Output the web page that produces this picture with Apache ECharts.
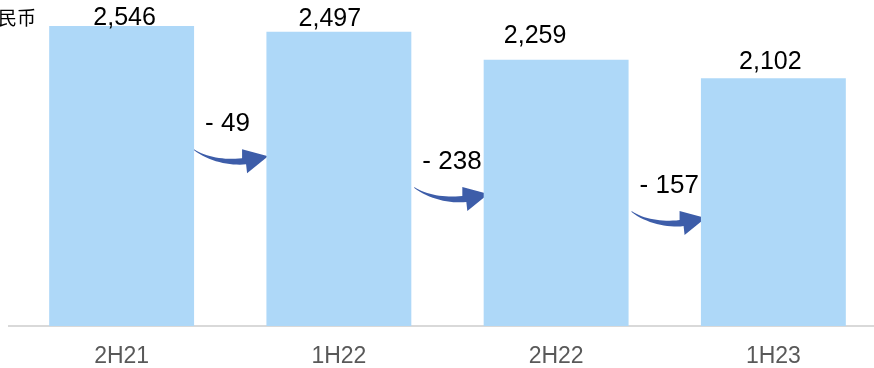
<!DOCTYPE html>
<html>
<head>
<meta charset="utf-8">
<script src="https://cdn.jsdelivr.net/npm/echarts@6/dist/echarts.min.js"></script>
<style>
  html, body { margin: 0; padding: 0; background: #ffffff; overflow: hidden; }
  #chart { width: 890px; height: 368px; }
</style>
</head>
<body>
<div id="chart"></div>
<script>
// Half-year totals
const periods = ['2H21', '1H22', '2H22', '1H23'];
const amounts = [2546, 2497, 2259, 2102];
const unitLabel = '人民币';

// Value level on the y axis where each change arrow begins
const arrowLevels = [1500, 1180, 975];
// Nudges for the value labels [dx, dy]
const labelShift = [[3, 5], [-9, 0], [-21, -11], [-3, -4]];

const BAR_COLOR = '#aed8f8';
const ARROW_COLOR = '#3d5da9';
const FONT = '"Liberation Sans", Arial, sans-serif';

const chart = echarts.init(document.getElementById('chart'), null, { renderer: 'canvas' });

chart.setOption({
  animation: false,
  backgroundColor: '#ffffff',
  grid: { left: 13, right: 8, top: 19.6, bottom: 41, containLabel: false },
  xAxis: {
    type: 'category',
    data: periods,
    axisTick: { show: false },
    axisLine: { show: true, lineStyle: { color: '#d9d9d9', width: 2 } },
    axisLabel: { color: '#595959', fontSize: 23, fontFamily: FONT, margin: 19 }
  },
  yAxis: {
    type: 'value',
    min: 0,
    max: 2600,
    show: false,
    splitLine: { show: false }
  },
  series: [{
    type: 'bar',
    barWidth: '66.7%',
    itemStyle: { color: BAR_COLOR },
    data: amounts.map((v, i) => ({
      value: v,
      label: {
        show: true,
        position: 'top',
        distance: 0,
        offset: labelShift[i],
        color: '#000000',
        fontSize: 25,
        fontFamily: FONT,
        formatter: (p) => p.value.toLocaleString('en-US')
      }
    }))
  }]
});

// Cubic Bezier sampler
function bez(p0, p1, p2, p3, n) {
  const out = [];
  for (let k = 0; k <= n; k++) {
    const t = k / n, u = 1 - t;
    out.push([
      u * u * u * p0[0] + 3 * u * u * t * p1[0] + 3 * u * t * t * p2[0] + t * t * t * p3[0],
      u * u * u * p0[1] + 3 * u * u * t * p1[1] + 3 * u * t * t * p2[1] + t * t * t * p3[1]
    ]);
  }
  return out;
}

// Curved arrow outline, origin at the tail: tapered body then triangular head
function arrowOutline(x0, y0) {
  const pts = []
    .concat(bez([0, 0], [12, 8], [30, 11], [48, 9], 16))
    .concat([[48, 0], [74, 7], [53, 24]])
    .concat(bez([52, 15], [36, 17], [14, 12], [0, 1], 16));
  return pts.map(p => [x0 + p[0], y0 + p[1]]);
}

const graphics = [
  {
    type: 'text',
    left: -21,
    top: 8,
    style: {
      text: unitLabel,
      fill: '#000000',
      fontSize: 19,
      fontFamily: '"Noto Sans CJK SC", sans-serif'
    }
  },
  {
    // baseline extends slightly past the first category
    type: 'line',
    shape: { x1: 8, y1: 0, x2: 13, y2: 0 },
    y: chart.convertToPixel({ yAxisIndex: 0 }, 0),
    style: { stroke: '#d9d9d9', lineWidth: 2 }
  }
];

const step = chart.convertToPixel({ xAxisIndex: 0 }, periods[1]) -
  chart.convertToPixel({ xAxisIndex: 0 }, periods[0]);
const barHalf = 0.667 * step / 2;

for (let i = 0; i < amounts.length - 1; i++) {
  const cx = chart.convertToPixel({ xAxisIndex: 0 }, periods[i]);
  const x0 = cx + barHalf;
  const y0 = chart.convertToPixel({ yAxisIndex: 0 }, arrowLevels[i]);
  const change = amounts[i + 1] - amounts[i];
  graphics.push({
    type: 'polygon',
    shape: { points: arrowOutline(x0 + (i ? 3 : 0), y0) },
    style: { fill: ARROW_COLOR }
  });
  graphics.push({
    type: 'text',
    x: x0 + 11,
    y: y0 - 25,
    style: {
      text: (change < 0 ? '- ' : '+ ') + Math.abs(change),
      fill: '#000000',
      fontSize: 26,
      fontFamily: FONT,
      textVerticalAlign: 'middle'
    }
  });
}

chart.setOption({ graphic: graphics });
</script>
</body>
</html>
